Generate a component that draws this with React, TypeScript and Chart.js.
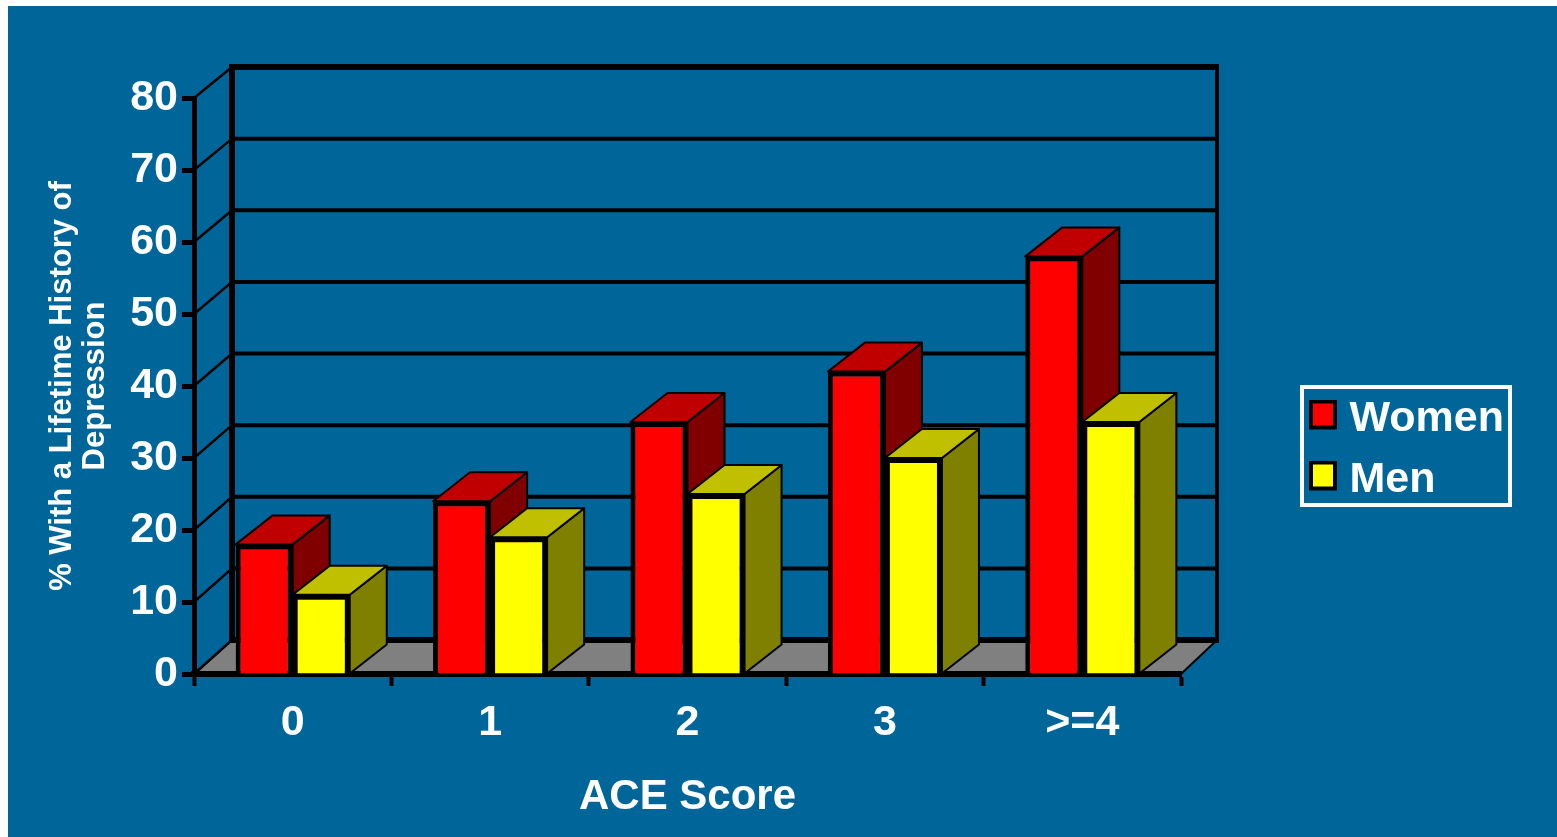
import React, { useEffect, useRef } from "react";
import { Chart, registerables } from "chart.js";

Chart.register(...registerables);

const categories = ["0", "1", "2", "3", ">=4"];
const women = [18, 24, 35, 42, 58];
const men = [11, 19, 25, 30, 35];
const yTitleLines = ["% With a Lifetime History of", "Depression"];
const xTitle = "ACE Score";

const BLUE = "#006699";
const FONT = '"Liberation Sans", Arial, sans-serif';
const faces: Record<string, { top: string; side: string }> = {
  Women: { top: "#c00000", side: "#800000" },
  Men: { top: "#c0c000", side: "#808000" },
};

function marker(fill: string) {
  const c = document.createElement("canvas");
  c.width = 28;
  c.height = 40;
  const g = c.getContext("2d")!;
  g.fillStyle = "#000";
  g.fillRect(0, 0, 28, 30);
  g.fillStyle = fill;
  g.fillRect(4, 4, 20, 22);
  return c;
}

const wallPlugin = {
  id: "wall",
  beforeDraw(chart: any) {
    const { ctx, chartArea: a, scales } = chart;
    const y = scales.y;
    ctx.save();
    ctx.fillStyle = BLUE;
    ctx.fillRect(0, 0, chart.width, chart.height);
    const dx = 38;
    const dyOf = (v: number) => 34 - (3 * v) / 80;
    const y0 = y.getPixelForValue(0);
    const floorY = y0 - dyOf(0);
    ctx.fillStyle = "#808080";
    ctx.beginPath();
    ctx.moveTo(a.left, y0);
    ctx.lineTo(a.left + dx, floorY);
    ctx.lineTo(a.right + 36, floorY);
    ctx.lineTo(a.right, y0);
    ctx.closePath();
    ctx.fill();
    ctx.strokeStyle = "#000";
    ctx.lineCap = "butt";
    for (const t of y.ticks) {
      const py = y.getPixelForValue(t.value);
      const by = py - dyOf(t.value);
      const edge = t.value === 0 || t.value === 80;
      ctx.lineWidth = 2.5;
      ctx.beginPath();
      ctx.moveTo(a.left, py);
      ctx.lineTo(a.left + dx, by);
      ctx.stroke();
      ctx.lineWidth = edge ? 6 : 4;
      ctx.beginPath();
      ctx.moveTo(a.left + dx, by);
      ctx.lineTo(a.right + 36, by);
      ctx.stroke();
    }
    const top = y.getPixelForValue(80) - dyOf(80);
    ctx.lineWidth = 6;
    ctx.beginPath();
    ctx.moveTo(a.left + dx, top - 3);
    ctx.lineTo(a.left + dx, floorY + 3);
    ctx.stroke();
    ctx.lineWidth = 4;
    ctx.beginPath();
    ctx.moveTo(a.right + 36, top - 3);
    ctx.lineTo(a.right + 36, floorY + 3);
    ctx.stroke();
    ctx.lineWidth = 2;
    ctx.beginPath();
    ctx.moveTo(a.right + 36, floorY);
    ctx.lineTo(a.right, y0);
    ctx.stroke();
    ctx.restore();
  },
};

const barDepthPlugin = {
  id: "barDepth",
  beforeDatasetsDraw(chart: any) {
    const { ctx } = chart;
    const dx = 37;
    const dy = 29;
    ctx.save();
    ctx.strokeStyle = "#000";
    ctx.lineWidth = 2;
    ctx.lineJoin = "round";
    chart.data.datasets.forEach((ds: any, i: number) => {
      const f = faces[ds.label];
      for (const el of chart.getDatasetMeta(i).data) {
        const { x, y, base, width } = el.getProps(["x", "y", "base", "width"], true);
        const l = x - width / 2;
        const r = x + width / 2;
        ctx.fillStyle = f.side;
        ctx.beginPath();
        ctx.moveTo(r, y);
        ctx.lineTo(r + dx, y - dy);
        ctx.lineTo(r + dx, base - dy);
        ctx.lineTo(r, base);
        ctx.closePath();
        ctx.fill();
        ctx.stroke();
        ctx.fillStyle = f.top;
        ctx.beginPath();
        ctx.moveTo(l, y);
        ctx.lineTo(l + dx, y - dy);
        ctx.lineTo(r + dx, y - dy);
        ctx.lineTo(r, y);
        ctx.closePath();
        ctx.fill();
        ctx.stroke();
      }
    });
    ctx.restore();
  },
};

const legendPlugin = {
  id: "legendBox",
  afterLayout(chart: any) {
    const l = chart.legend;
    const h = l.height;
    const w = l.width;
    l.left = 1292;
    l.right = 1292 + w;
    l.top = 374;
    l.bottom = 374 + h;
  },
  afterDraw(chart: any) {
    const { ctx } = chart;
    ctx.save();
    ctx.strokeStyle = "#ffffff";
    ctx.lineWidth = 4;
    ctx.strokeRect(1294, 381, 208, 118);
    ctx.restore();
  },
};

export default function App() {
  const ref = useRef<HTMLCanvasElement>(null);
  useEffect(() => {
    const chart = new Chart(ref.current!, {
      type: "bar",
      data: {
        labels: categories,
        datasets: [
          { label: "Women", data: women, backgroundColor: "#ff0000", borderColor: "#000", borderWidth: 5 },
          { label: "Men", data: men, backgroundColor: "#ffff00", borderColor: "#000", borderWidth: 5 },
        ],
      },
      options: {
        animation: false,
        responsive: false,
        devicePixelRatio: 1,
        layout: { padding: { left: 10, right: 162, top: 92, bottom: 0 } },
        datasets: { bar: { categoryPercentage: 0.578, barPercentage: 1 } },
        plugins: {
          tooltip: { enabled: false },
          legend: {
            position: "right",
            align: "start",
            onClick: () => {},
            labels: {
              color: "#ffffff",
              font: { family: FONT, size: 43, weight: "bold" },
              padding: 18,
              usePointStyle: true,
              pointStyleWidth: 10,
              generateLabels: (c: any) =>
                c.data.datasets.map((d: any, i: number) => ({
                  text: d.label,
                  fontColor: "#ffffff",
                  pointStyle: marker(d.backgroundColor),
                  hidden: false,
                  datasetIndex: i,
                  lineWidth: 0,
                })),
            },
          },
        },
        scales: {
          x: {
            afterFit: (s: any) => { s.height = 163; },
            grid: { drawOnChartArea: false, drawTicks: true, tickLength: 12, tickWidth: 4, tickColor: "#000", offset: true },
            border: { color: "#000", width: 6 },
            ticks: { color: "#fff", padding: 11, maxRotation: 0, font: { family: FONT, size: 43, weight: "bold" } },
            title: { display: true, text: xTitle, color: "#fff", font: { family: FONT, size: 42, weight: "bold" }, padding: { top: 10, bottom: 14 } },
          },
          y: {
            min: 0,
            max: 80,
            afterFit: (s: any) => { s.width = 176; },
            grid: { drawOnChartArea: false, drawTicks: true, tickLength: 12, tickWidth: 5, tickColor: "#000" },
            border: { color: "#000", width: 5 },
            ticks: { stepSize: 10, color: "#fff", padding: 4, font: { family: FONT, size: 43, weight: "bold" } },
            title: { display: true, text: yTitleLines, color: "#fff", font: { family: FONT, size: 31, weight: "bold", lineHeight: 1.07 }, padding: { top: 28, bottom: 0 } },
          },
        },
      } as any,
      plugins: [wallPlugin, barDepthPlugin, legendPlugin],
    });
    return () => chart.destroy();
  }, []);
  return (
    <canvas
      ref={ref}
      width={1549}
      height={831}
      style={{ position: "absolute", left: 8, top: 6, display: "block" }}
    />
  );
}
